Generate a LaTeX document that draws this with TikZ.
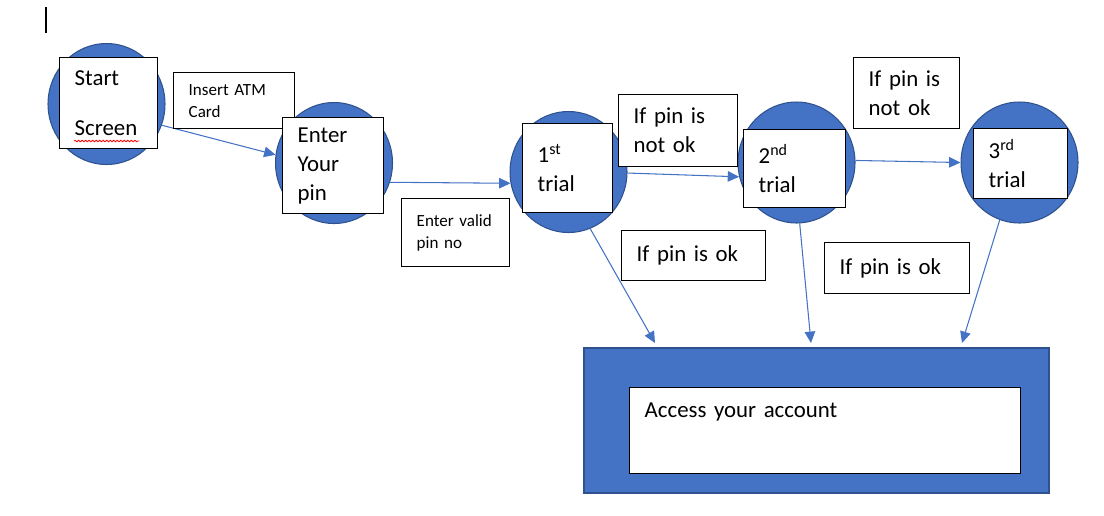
\documentclass[tikz,border=0pt]{standalone}
\usepackage{fontspec}
\setmainfont{Carlito}
\usetikzlibrary{arrows.meta,shapes.geometric,decorations.pathmorphing}
\definecolor{wordblue}{HTML}{4472C4}
\definecolor{wordedge}{HTML}{2F528F}
\begin{document}
\begin{tikzpicture}[x=0.02cm,y=-0.02cm,
  disc/.style={ellipse,fill=wordblue,draw=wordedge,line width=0.6pt,minimum width=2.34cm,minimum height=2.42cm,inner sep=0pt},
  card/.style={draw=black,fill=white,line width=0.8pt,anchor=north west,inner xsep=0.3cm,inner ysep=0pt,align=left,font=\fontsize{13}{16.5}\selectfont},
  smallcard/.style={card,font=\fontsize{9.7}{12.5}\selectfont},
  link/.style={draw=wordblue,line width=0.6pt,-{Triangle[length=6.5pt,width=6pt]}}]
\useasboundingbox (0,0) rectangle (1104,515);
\draw [line width=0.6pt] (46,7) -- (46,33);

\node (c1) [disc] at (106.5,104) {};
\node (c2) [disc] at (334,163) {};
\node (c3) [disc] at (568.5,172) {};
\node (c4) [disc] at (796.5,162.5) {};
\node (c5) [disc] at (1019.5,162.5) {};

\node (account) [rectangle,fill=wordblue,draw=wordedge,line width=0.8pt,minimum width=9.3cm,minimum height=2.9cm] at (816.5,420.5) {};
\node (inner) [card,inner ysep=0.3cm,text width=7.22cm,text height=0.3cm,text depth=0.82cm] at (629,387) {Access your account};

\coordinate (in1) at (655,343);
\coordinate (in2) at (811,343);
\coordinate (in3) at (962,343);

\draw [link] (c1.-21) -- (c2.172);
\draw [link] (c2.-19) -- (c3.-169);
\draw [link] (c3.-1) -- (c4.-166);
\draw [link] (c4.2) -- (c5.180);
\draw [link] (c3.-69) -- (in1);
\draw [link] (c4.-87) -- (in2);
\draw [link] (c5.-109) -- (in3);

\node (start) [card,text width=1.36cm,minimum height=1.82cm] at (59,57) {Start\\[11.9pt]Screen};
\draw [red,line width=0.5pt,decorate,decoration={snake,amplitude=0.4pt,segment length=2pt}] (74,141) -- (139,141);
\node (insert) [smallcard,text width=1.82cm,minimum height=1.12cm] at (173,72) {Insert ATM\\Card};
\node (enter) [card,text width=1.42cm,minimum height=1.92cm] at (282,117) {Enter\\Your\\pin};
\node (valid) [smallcard,text width=1.56cm,minimum height=1.36cm] at (401,198) {Enter valid\\pin no};
\node (trial1) [card,text width=1.2cm,minimum height=1.78cm] at (522,123) {1\textsuperscript{st}\\trial};
\node (notok1) [card,text width=1.78cm,minimum height=1.44cm] at (618,94) {If pin is\\not ok};
\node (ok1) [card,text width=2.28cm,minimum height=1.0cm] at (621,230) {If pin is ok};
\node (trial2) [card,text width=1.44cm,minimum height=1.56cm] at (743,129) {2\textsuperscript{nd}\\trial};
\node (notok2) [card,text width=1.52cm,minimum height=1.42cm] at (853,57) {If pin is\\not ok};
\node (trial3) [card,text width=1.28cm,minimum height=1.4cm] at (973,128) {3\textsuperscript{rd}\\trial};
\node (ok2) [card,text width=2.3cm,minimum height=1.02cm] at (824,242) {If pin is ok};
\end{tikzpicture}
\end{document}
